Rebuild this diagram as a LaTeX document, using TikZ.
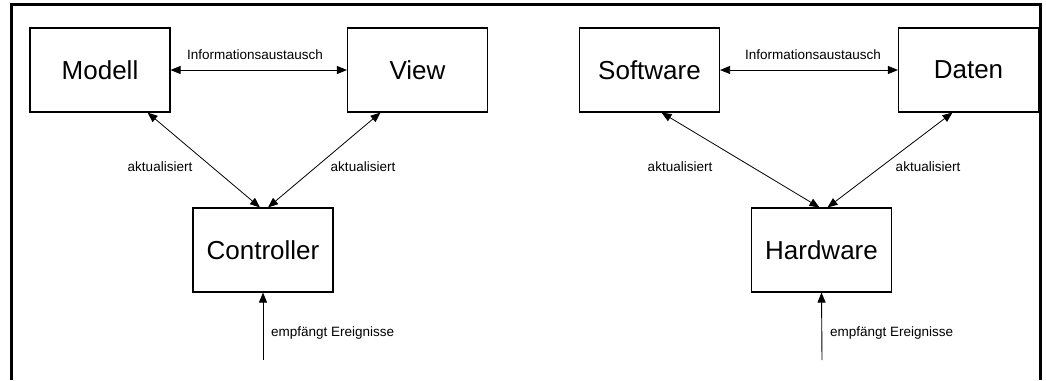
\documentclass[tikz,border=0pt]{standalone}
\usepackage{fontspec}
\setmainfont{Liberation Sans}
\usetikzlibrary{arrows.meta}
\tikzset{
  box/.style={draw, line width=1.1pt, minimum width=140pt, minimum height=84pt, inner sep=0pt, font=\fontsize{26}{30}\selectfont},
  lbl/.style={font=\fontsize{13.5}{15}\selectfont, inner sep=0pt},
  link/.style={line width=0.8pt, {Triangle[length=10pt,width=8pt]}-{Triangle[length=10pt,width=8pt]}},
  feed/.style={line width=0.9pt, -{Triangle[length=10pt,width=8pt]}},
  frame/.style={line width=3pt}
}
\begin{document}
\begin{tikzpicture}[x=1pt,y=-1pt]
\useasboundingbox (0,0) rectangle (1046,380);
\fill[white] (0,0) rectangle (1046,380);
% outer frame (open at the bottom)
\draw[frame] (11,380) -- (11,4) -- (1040,4) -- (1040,380);

% ---- left diagram: MVC ----
\node[box] (modell) at (100,70) {Modell};
\node[box] (view) at (417.5,70) {View};
\node[box] (ctrl) at (263,250) {Controller};
\coordinate (evL) at (263,360);

\draw[link] (modell.east) -- (view.west);
\node[lbl] (infoL) at (255,55) {Informationsaustausch};
\draw[link] ([xshift=-23pt]modell.south east) -- ([xshift=-3pt]ctrl.north);
\draw[link] ([xshift=-37pt]view.south) -- ([xshift=5pt]ctrl.north);
\node[lbl] (akt1) at (160,167) {aktualisiert};
\node[lbl] (akt2) at (363,167) {aktualisiert};
\draw[feed] (evL) -- (ctrl.south);
\node[lbl, anchor=west] (evtL) at (271,333) {empfängt Ereignisse};

% ---- right diagram: Software / Daten / Hardware ----
\node[box] (sw) at (649.5,70) {Software};
\node[box] (daten) at (968.5,70) {Daten};
\node[box] (hw) at (821.5,250) {Hardware};
\coordinate (evR) at (822,360);

\draw[link] (sw.east) -- (daten.west);
\node[lbl] (infoR) at (813,55) {Informationsaustausch};
\draw[link] ([xshift=12pt]sw.south) -- ([xshift=-2pt]hw.north);
\draw[link] ([xshift=-16pt]daten.south) -- ([xshift=6pt]hw.north);
\node[lbl] (akt3) at (680,167) {aktualisiert};
\node[lbl] (akt4) at (928,167) {aktualisiert};
\draw[feed] (evR) -- (hw.south);
\node[lbl, anchor=west] (evtR) at (830,333) {empfängt Ereignisse};
\end{tikzpicture}
\end{document}
